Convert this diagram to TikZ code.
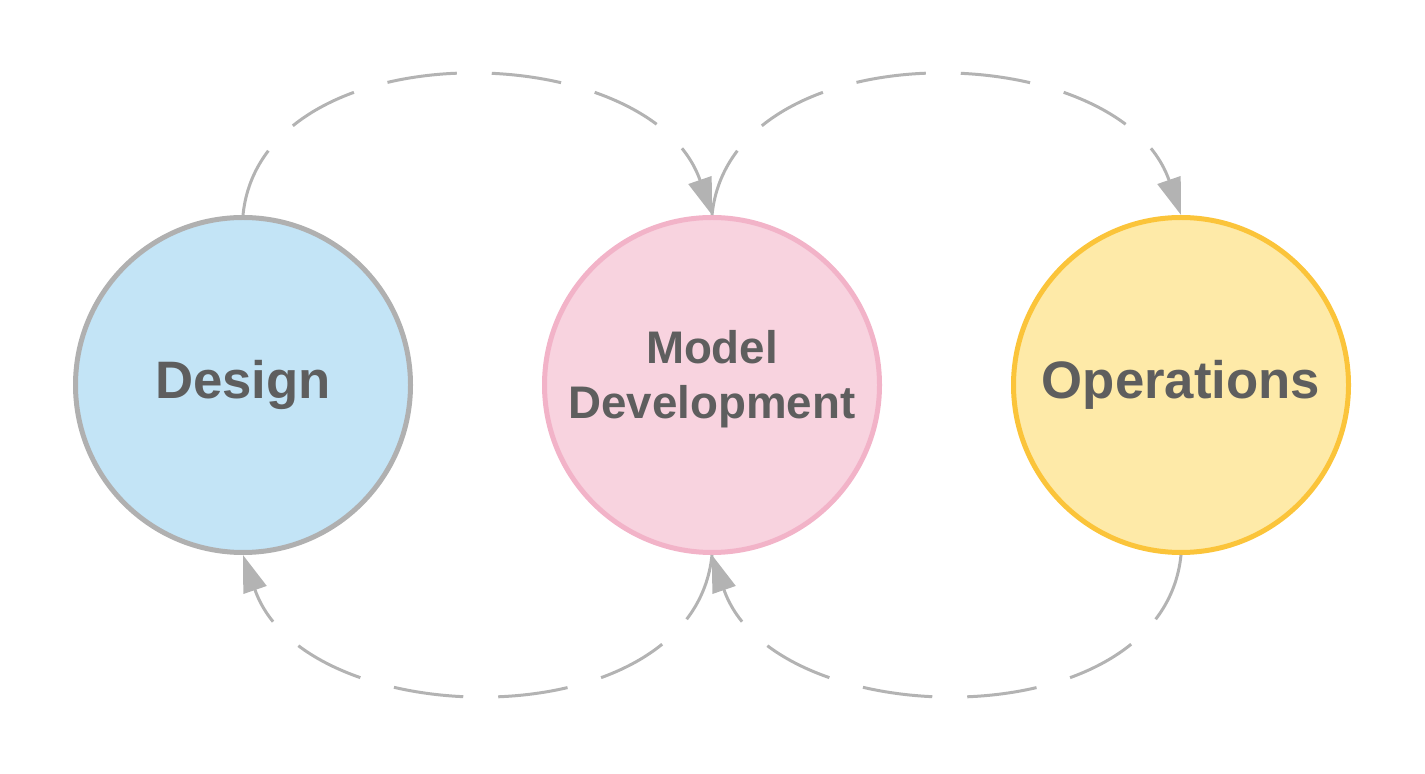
\documentclass[tikz,border=0pt]{standalone}
\usepackage{fontspec}
\setmainfont{Liberation Sans}
\usetikzlibrary{arrows.meta}
\definecolor{txtgray}{HTML}{5E5E5E}
\definecolor{arcgray}{HTML}{B3B3B3}
\definecolor{designfill}{HTML}{C3E4F6}
\definecolor{designline}{HTML}{B0B0B0}
\definecolor{modelfill}{HTML}{F8D3DF}
\definecolor{modelline}{HTML}{F2B3C8}
\definecolor{opsfill}{HTML}{FEEAA8}
\definecolor{opsline}{HTML}{FBC43A}

\begin{document}
\begin{tikzpicture}[
	phase/.style={circle, draw, line width=0.1cm, minimum size=6.7cm, inner sep=0pt,
		text=txtgray, font=\bfseries\fontsize{30}{36}\selectfont, align=center},
	loop/.style={draw=arcgray, line width=0.06cm, dash pattern=on 1.4cm off 0.7cm,
		-{Triangle[length=0.74cm,width=0.48cm]}}
]
	\useasboundingbox (0,-7.78) rectangle (28.5,7.7);
	\node[phase, fill=designfill, draw=designline] (design) at (4.86,0) {Design};
	\node[phase, fill=modelfill, draw=modelline, text depth=0.43cm, font=\bfseries\fontsize{26}{31}\selectfont] (model) at (14.24,0) {Model\\Development};
	\node[phase, fill=opsfill, draw=opsline] (ops) at (23.62,0) {Operations};
	% top arcs
	\draw[loop] (design.north) .. controls +(0.38,3.74) and +(-1.24,3.6) .. (model.north);
	\draw[loop] (model.north) .. controls +(0.38,3.74) and +(-1.24,3.6) .. (ops.north);
	% bottom arcs
	\draw[loop] (ops.south) .. controls +(-0.38,-3.74) and +(1.24,-3.6) .. (model.south);
	\draw[loop] (model.south) .. controls +(-0.38,-3.74) and +(1.24,-3.6) .. (design.south);
\end{tikzpicture}
\end{document}
